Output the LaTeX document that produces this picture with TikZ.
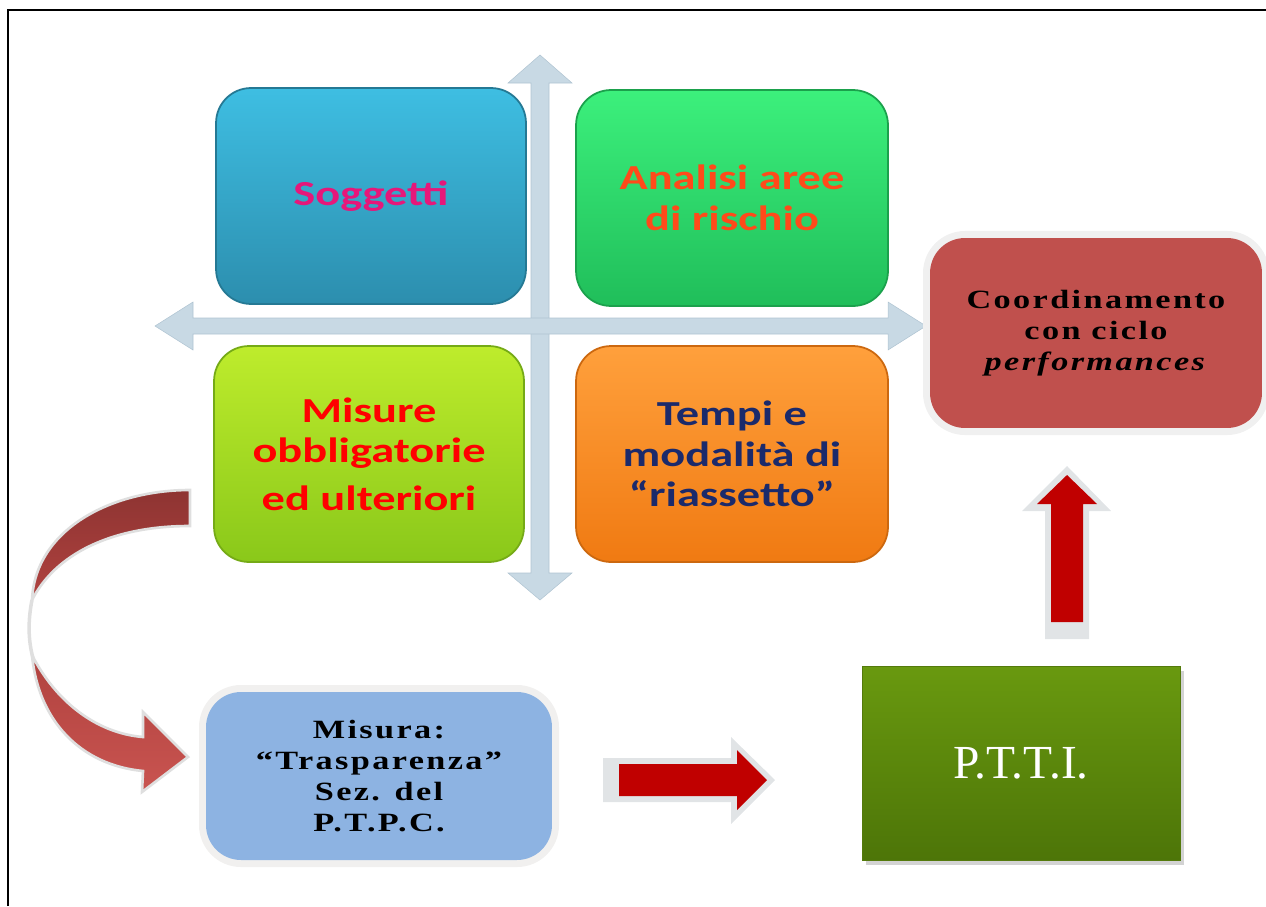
\documentclass[tikz,border=0pt]{standalone}
\usepackage{fontspec}
\setmainfont{Liberation Serif}
\newfontfamily\calfont[FakeStretch=1.32]{Carlito}
\newfontfamily\widefont[FakeStretch=1.3,LetterSpace=9]{Liberation Serif}
\usetikzlibrary{shadows}

\definecolor{axiscol}{RGB}{200,217,228}
\definecolor{axisedge}{RGB}{176,196,210}
\definecolor{sogtop}{RGB}{62,190,226}
\definecolor{sogbot}{RGB}{44,142,174}
\definecolor{sogtext}{RGB}{230,23,122}
\definecolor{anatop}{RGB}{60,240,124}
\definecolor{anabot}{RGB}{32,190,90}
\definecolor{anatext}{RGB}{255,74,26}
\definecolor{mistop}{RGB}{190,236,44}
\definecolor{misbot}{RGB}{138,200,26}
\definecolor{temtop}{RGB}{255,160,60}
\definecolor{tembot}{RGB}{240,122,18}
\definecolor{temtext}{RGB}{27,42,107}
\definecolor{coofill}{RGB}{192,80,77}
\definecolor{trafill}{RGB}{141,179,226}
\definecolor{pttitop}{RGB}{105,153,15}
\definecolor{pttibot}{RGB}{77,117,8}
\definecolor{arrowred}{RGB}{192,0,0}
\definecolor{arrowhalo}{RGB}{225,228,230}
\definecolor{curvedark}{RGB}{142,52,50}
\definecolor{curvemid}{RGB}{176,66,63}
\definecolor{curvelight}{RGB}{201,84,80}

\begin{document}
\begin{tikzpicture}[x=0.02cm,y=-0.02cm]
\tikzset{
    frame/.style={line width=1.2pt, color=black},
    axis/.style={fill=axiscol, draw=axisedge, line width=0.3pt},
    quad/.style={rounded corners=0.7cm, minimum width=6.2cm, minimum height=4.32cm,
        align=center, line width=1pt, font=\calfont\bfseries\fontsize{20}{23}\selectfont},
    note/.style={rounded corners=0.7cm, align=center,
        font=\widefont\bfseries\fontsize{15}{17.5}\selectfont},
    redarrow/.style={fill=arrowred},
    halo/.style={fill=arrowhalo},
    curve/.style={draw=gray!25, line width=1.5pt}}

\useasboundingbox (0,0) rectangle (1266,906);

\draw[frame] (8,906) -- (8,10) -- (1266,10);

\draw[axis] (531,83) -- (508,83) -- (540,55) -- (572,83) -- (549,83) -- (549,573)
    -- (572,573) -- (540,600) -- (508,573) -- (531,573) -- cycle;
\draw[axis] (193,318) -- (193,302) -- (155,326) -- (193,350) -- (193,334) -- (888,334)
    -- (888,350) -- (926,326) -- (888,302) -- (888,318) -- cycle;

\node[quad, top color=sogtop, bottom color=sogbot, draw=sogbot!85!black, text=sogtext]
    (sog) at (371,196) {Soggetti};
\node[quad, top color=anatop, bottom color=anabot, draw=anabot!85!black, text=anatext,
    minimum width=6.24cm] (ana) at (732,198) {Analisi aree\\di rischio};
\node[quad, top color=mistop, bottom color=misbot, draw=misbot!85!black, text=red]
    (mis) at (369,454) {Misure\\obbligatorie\\[4pt]ed ulteriori};
\node[quad, top color=temtop, bottom color=tembot, draw=tembot!85!black, text=temtext,
    minimum width=6.24cm] (tem) at (732,454) {Tempi e\\modalità di\\“riassetto”};

\node[note, fill=coofill, minimum width=6.64cm, minimum height=3.8cm,
    preaction={draw=gray!12, line width=8pt}] (coo) at (1096,333)
    {Coordinamento\\con ciclo\\\textit{performances}};
\node[note, fill=trafill, minimum width=6.92cm, minimum height=3.36cm,
    preaction={draw=orange!6!gray!12, line width=8pt}] (tra) at (379,776)
    {Misura:\\“Trasparenza”\\Sez. del\\P.T.P.C.};
\node[top color=pttitop, bottom color=pttibot, draw=pttitop!80!black,
    minimum width=6.36cm, minimum height=3.88cm, text=white,
    font=\fontsize{27}{30}\selectfont,
    drop shadow={shadow xshift=2pt, shadow yshift=-3pt, opacity=0.35}]
    (ptti) at (1021,763) {P.T.T.I.};

\fill[halo] (603,758) -- (731,758) -- (731,737) -- (775,780) -- (731,824) -- (731,802)
    -- (603,802) -- cycle;
\fill[redarrow] (619,764) -- (737,764) -- (737,750) -- (767,780) -- (737,810) -- (737,796)
    -- (619,796) -- cycle;

\fill[halo] (1045,639) -- (1045,511) -- (1022,511) -- (1067,466) -- (1111,511) -- (1089,511)
    -- (1089,639) -- cycle;
\fill[redarrow] (1051,622) -- (1051,504) -- (1037,504) -- (1067,475) -- (1097,504) -- (1083,504)
    -- (1083,622) -- cycle;

\draw[gray!25, line width=2pt] (32,600) .. controls (28,620) and (28,640) .. (33,658);
\draw[curve, top color=curvedark, bottom color=curvemid] (190,490)
    .. controls (110,490) and (35,530) .. (32,600)
    .. controls (55,555) and (110,526) .. (190,526) -- cycle;
\draw[curve, top color=curvemid, bottom color=curvelight] (32,655)
    .. controls (55,700) and (95,733) .. (143,737) -- (143,712) -- (188,757)
    -- (142,792) -- (143,771) .. controls (80,765) and (38,720) .. (32,655) -- cycle;

\end{tikzpicture}
\end{document}
